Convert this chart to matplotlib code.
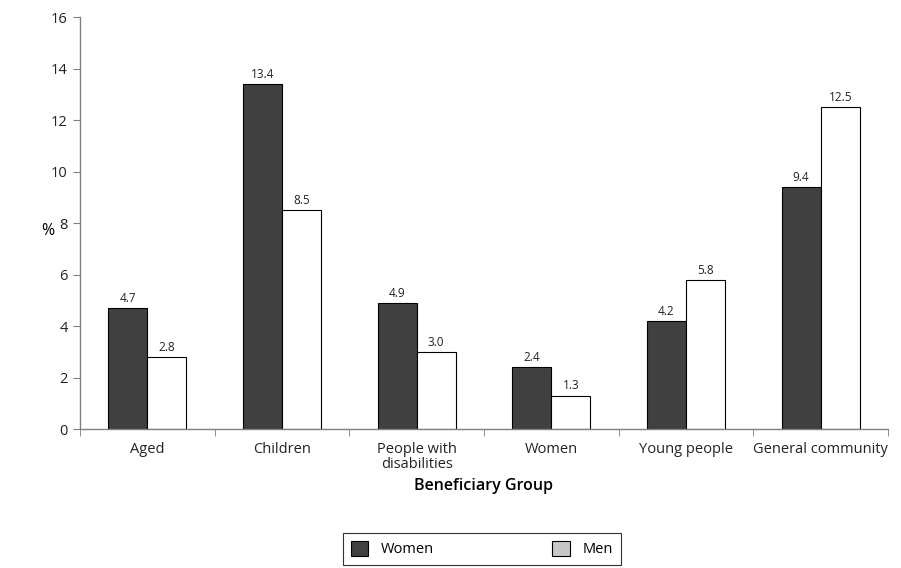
import numpy as np
import matplotlib.pyplot as plt
from matplotlib.patches import Patch

# beneficiary groups and percentages
groups = ['Aged', 'Children', 'People with\ndisabilities', 'Women',
          'Young people', 'General community']
women = [4.7, 13.4, 4.9, 2.4, 4.2, 9.4]
men = [2.8, 8.5, 3.0, 1.3, 5.8, 12.5]

plt.rcParams['font.family'] = ['Open Sans', 'DejaVu Sans']

fig = plt.figure(figsize=(9.01, 5.68), dpi=100)
ax = fig.add_axes([0.0888, 0.2447, 0.8968, 0.7253])

x = np.arange(len(groups))
w = 0.29
dark = '#404040'
bw = ax.bar(x - w / 2, women, w, color=dark, edgecolor='black', linewidth=0.8)
bm = ax.bar(x + w / 2, men, w, color='white', edgecolor='black', linewidth=0.8)

for bars, vals in ((bw, women), (bm, men)):
    for b, v in zip(bars, vals):
        ax.text(b.get_x() + b.get_width() / 2, v + 0.12, f'{v:.1f}',
                ha='center', va='bottom', fontsize=8.5, color='#222222')

ax.set_xlim(-0.5, len(groups) - 0.5)
ax.set_ylim(0, 16)
ax.set_yticks(range(0, 17, 2))
ax.set_xticks(x)
ax.set_xticklabels(groups, fontsize=10.5, color='#222222', linespacing=1.0)
ax.set_xticks(np.arange(-0.5, len(groups)), minor=True)
ax.tick_params(axis='x', which='major', length=0, pad=9)
ax.tick_params(axis='x', which='minor', length=5, color='#808080', direction='out')
ax.tick_params(axis='y', length=5, color='#808080', labelsize=10.5,
               labelcolor='#222222', pad=4)

for s in ('top', 'right'):
    ax.spines[s].set_visible(False)
for s in ('left', 'bottom'):
    ax.spines[s].set_color('#808080')
    ax.spines[s].set_linewidth(1.0)

ax.set_ylabel('%', rotation=0, fontsize=11.5, va='center')
ax.yaxis.set_label_coords(-0.04, 0.48)
ax.set_xlabel('Beneficiary Group', fontsize=11.5, fontweight='semibold')
ax.xaxis.set_label_coords(0.5, -0.118)

handles = [Patch(facecolor=dark, edgecolor='black', linewidth=0.8),
           Patch(facecolor='#c8c8c8', edgecolor='black', linewidth=0.8)]
leg = fig.legend(handles, ['Women', 'Men'], ncol=2, loc='center',
                 bbox_to_anchor=(0.535, 0.0335), fontsize=10.5,
                 frameon=True, fancybox=False, edgecolor='black',
                 handlelength=1.2, handleheight=1.2, handletextpad=0.9,
                 columnspacing=8.1, borderpad=0.55, borderaxespad=0)
leg.get_frame().set_linewidth(0.8)

fig.savefig('out.png', dpi=100)
